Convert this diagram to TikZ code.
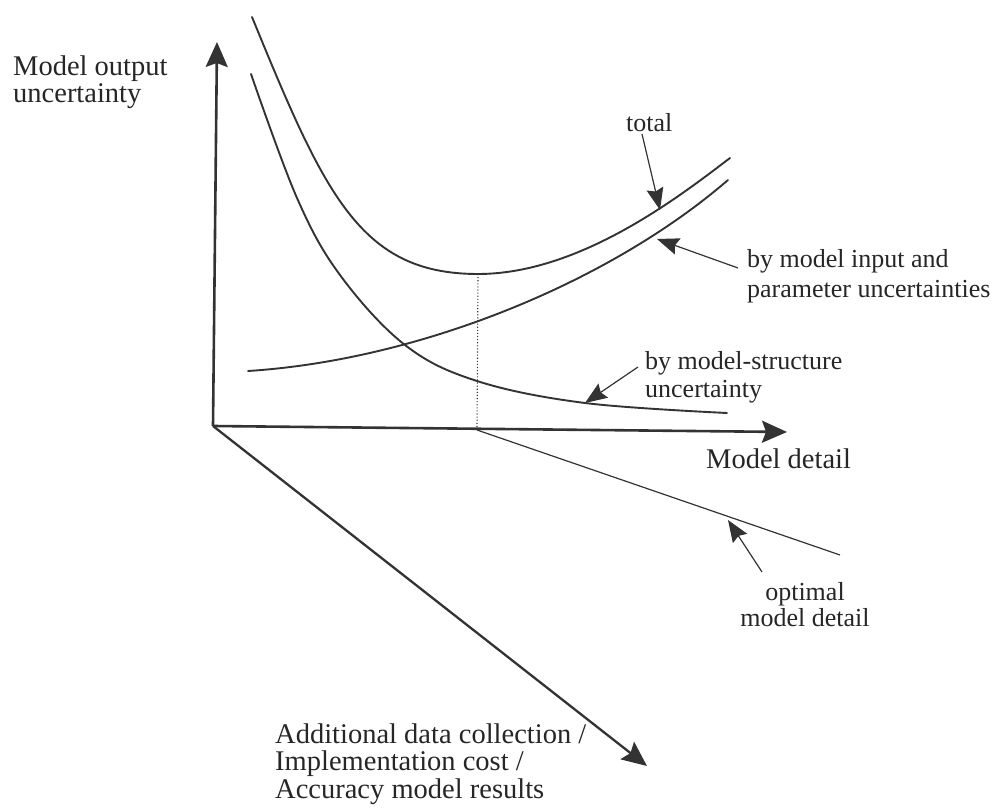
\documentclass[tikz,border=0pt]{standalone}
\usepackage{fontspec}
\setmainfont{Liberation Serif}
\usetikzlibrary{arrows.meta}

\definecolor{ink}{HTML}{333333}
\definecolor{txt}{HTML}{262626}

\begin{document}
\begin{tikzpicture}[x=1pt,y=-1pt,
  axis/.style={draw=ink, line width=2.6pt, -{Stealth[length=25pt,width=22pt,inset=4pt]}},
  curve/.style={draw=ink, line width=1.9pt, line cap=round},
  thin/.style={draw=ink, line width=1.2pt},
  pointer/.style={draw=ink, line width=1.2pt, -{Stealth[length=22pt,width=17pt,inset=3pt]}},
  biglbl/.style={text=txt, inner sep=0pt, align=left, font=\fontsize{28.5}{27.5}\selectfont},
  lbl/.style={text=txt, inner sep=0pt, align=left, font=\fontsize{26}{29}\selectfont},
]
\useasboundingbox (0,0) rectangle (997,810);

% axes
\coordinate (O) at (213,426);
\coordinate (ytip) at (217,42);
\coordinate (xtip) at (787,432);
\coordinate (ztip) at (647,766);
\draw[axis] (O) -- (ytip);
\draw[axis] (O) -- (xtip);
\draw[axis, line width=2.3pt] (O) -- (ztip);

% total uncertainty: falling branch, minimum, rising branch
\coordinate (tmin) at (478,274);
\draw[curve] (252,17) .. controls (325,195) and (360,274) .. (tmin)
                      .. controls (580,274) and (680,196) .. (730,158);

% model-structure uncertainty
\draw[curve] plot[smooth, tension=0.6] coordinates {
  (251,74) (297,198) (340,275) (405,345) (477,381) (585,403) (727,413)};

% input and parameter uncertainty
\draw[curve] (248,371) .. controls (420,360) and (610,282) .. (728,180);

% optimum
\coordinate (optbase) at (477,430);
\coordinate (optend) at (840,555);
\draw[ink, line width=1.1pt, dotted] (tmin) -- (optbase);
\draw[thin] (optbase) -- (optend);

% labels (base anchor = baseline of the last line)
\node[biglbl, anchor=base west] (ylab) at (13,103) {Model output\\uncertainty};
\node[biglbl, anchor=base west] (xlab) at (706,468) {Model detail};
\node[biglbl, anchor=base west] (zlab) at (275,798)
  {Additional data collection /\\Implementation cost /\\Accuracy model results};
\node[lbl, anchor=base west] (tlab) at (626,132) {total};
\node[lbl, anchor=base west, font=\fontsize{26}{30}\selectfont] (ilab) at (747,298)
  {by model input and\\parameter uncertainties};
\node[lbl, anchor=base west, font=\fontsize{26}{28}\selectfont] (slab) at (645,398)
  {by model-structure\\uncertainty};
\node[lbl, anchor=base, align=center, font=\fontsize{26}{26}\selectfont] (olab) at (805,626)
  {optimal\\model detail};

% pointers from labels to curves
\coordinate (tfrom) at (642,134);
\coordinate (tto) at (660,210);
\coordinate (ifrom) at (738,268);
\coordinate (ito) at (657,239);
\coordinate (sfrom) at (638,367);
\coordinate (sto) at (585,403);
\coordinate (ofrom) at (762,572);
\coordinate (oto) at (728,520);
\draw[pointer] (tfrom) -- (tto);
\draw[pointer] (ifrom) -- (ito);
\draw[pointer] (sfrom) -- (sto);
\draw[pointer] (ofrom) -- (oto);
\end{tikzpicture}
\end{document}
